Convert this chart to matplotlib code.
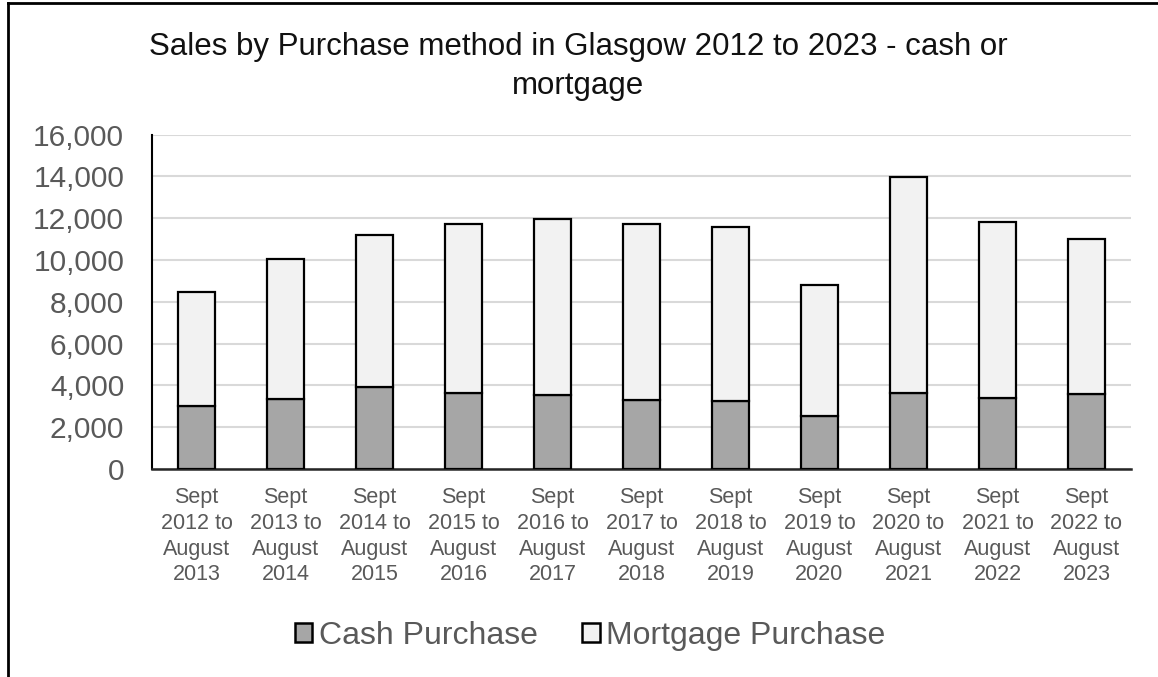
import matplotlib.pyplot as plt
import numpy as np
from matplotlib.lines import Line2D
from matplotlib.patches import Patch

plt.rcParams['font.family'] = ['Liberation Sans', 'DejaVu Sans']

periods = ['Sept\n2012 to\nAugust\n2013', 'Sept\n2013 to\nAugust\n2014',
           'Sept\n2014 to\nAugust\n2015', 'Sept\n2015 to\nAugust\n2016',
           'Sept\n2016 to\nAugust\n2017', 'Sept\n2017 to\nAugust\n2018',
           'Sept\n2018 to\nAugust\n2019', 'Sept\n2019 to\nAugust\n2020',
           'Sept\n2020 to\nAugust\n2021', 'Sept\n2021 to\nAugust\n2022',
           'Sept\n2022 to\nAugust\n2023']
cash = [3000, 3370, 3920, 3650, 3540, 3300, 3240, 2520, 3650, 3380, 3600]
mortgage = [5450, 6690, 7290, 8060, 8410, 8410, 8350, 6270, 10320, 8450, 7390]

W, H = 1158, 677
fig = plt.figure(figsize=(W / 100, H / 100), dpi=100)
ax = fig.add_axes([152 / W, 1 - 469 / H, (1131 - 152) / W, (469 - 134.7) / H])

x = np.arange(len(periods))
bw = 0.41
ax.bar(x, cash, bw, color='#a6a6a6', edgecolor='black', linewidth=1.6,
       label='Cash Purchase', zorder=3)
ax.bar(x, mortgage, bw, bottom=cash, color='#f2f2f2', edgecolor='black',
       linewidth=1.6, label='Mortgage Purchase', zorder=3)

ax.set_xlim(-0.5, len(periods) - 0.5)
ax.set_ylim(0, 16000)
ax.set_yticks(np.arange(0, 16001, 2000))
ax.set_yticklabels([f'{v:,}' for v in range(0, 16001, 2000)])
ax.set_xticks(x)
ax.set_xticklabels(periods, linespacing=1.3)

ax.yaxis.grid(True, color='#d9d9d9', linewidth=1.5, zorder=0)
ax.tick_params(axis='y', length=0, pad=20, labelsize=21.5, labelcolor='#595959')
ax.tick_params(axis='x', length=0, pad=13, labelsize=15.5, labelcolor='#595959')
for s in ['top', 'right']:
    ax.spines[s].set_visible(False)
ax.spines['left'].set_linewidth(1.5)
ax.spines['bottom'].set_linewidth(1.8)
ax.spines['bottom'].set_color('#262626')

fig.text(0.499, 1 - 47 / H, 'Sales by Purchase method in Glasgow 2012 to 2023 - cash or',
         ha='center', va='center', fontsize=22.5, color='#111111')
fig.text(0.499, 1 - 86 / H, 'mortgage', ha='center', va='center',
         fontsize=22.5, color='#111111')

handles = [Patch(facecolor='#a6a6a6', edgecolor='black', linewidth=1.8),
           Patch(facecolor='#f2f2f2', edgecolor='black', linewidth=1.8)]
fig.legend(handles, ['Cash Purchase', 'Mortgage Purchase'],
           loc='center', bbox_to_anchor=(590 / W, 1 - 636 / H), ncol=2,
           frameon=False, fontsize=23, labelcolor='#595959',
           handlelength=0.55, handleheight=0.55, handletextpad=0.2,
           columnspacing=1.4)

# border along the left and top edges
for xs, ys in [([8, 8], [0, 674]), ([8, W], [674, 674])]:
    fig.add_artist(Line2D(np.array(xs) / W, np.array(ys) / H,
                          transform=fig.transFigure, color='black', linewidth=2))

fig.savefig('out.png', dpi=100)
